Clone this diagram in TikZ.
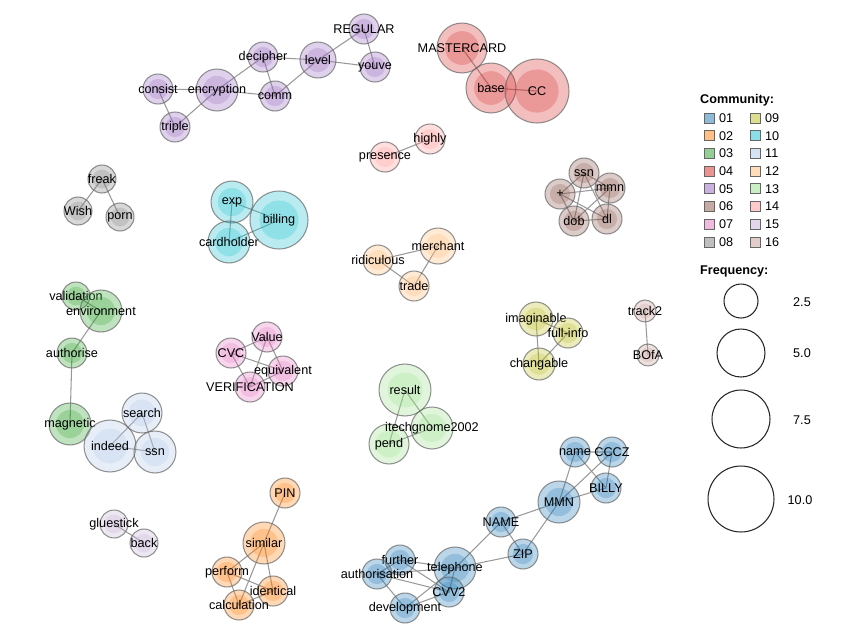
\documentclass[tikz,border=0pt]{standalone}
\usepackage{fontspec}
\setmainfont{Liberation Sans}
\usepackage{tikz}
\usetikzlibrary{positioning}
\pgfdeclarelayer{background}
\pgfsetlayers{background,main}

\definecolor{C01}{HTML}{1F77B4}
\definecolor{C02}{HTML}{FF7F0E}
\definecolor{C03}{HTML}{2CA02C}
\definecolor{C04}{HTML}{D62728}
\definecolor{C05}{HTML}{9467BD}
\definecolor{C06}{HTML}{8C564B}
\definecolor{C07}{HTML}{E377C2}
\definecolor{C08}{HTML}{7F7F7F}
\definecolor{C09}{HTML}{BCBD22}
\definecolor{C10}{HTML}{17BECF}
\definecolor{C11}{HTML}{AEC7E8}
\definecolor{C12}{HTML}{FFBB78}
\definecolor{C13}{HTML}{98DF8A}
\definecolor{C14}{HTML}{FF9896}
\definecolor{C15}{HTML}{C5B0D5}
\definecolor{C16}{HTML}{C49C94}

\begin{document}
\begin{tikzpicture}[
  x=0.02cm, y=-0.02cm,
  every node/.style={font=\fontsize{7.2}{8}\selectfont},
  every label/.style={text opacity=1, inner sep=0pt},
  term/.style 2 args={
    circle,
    inner sep=0pt,
    minimum size=#2*0.04cm,
    draw=black!60, draw opacity=0.7, line width=0.6pt,
    fill=#1, fill opacity=0.3,
    path picture={\fill[#1, fill opacity=0.25]
      (path picture bounding box.center) circle [radius=#2*0.0135cm];}
  },
  link/.style={draw=black!40, line width=0.6pt},
  swatch/.style={
    rectangle,
    inner sep=0pt,
    minimum size=0.2cm,
    fill=#1, fill opacity=0.5, text opacity=1,
    draw=black!60, line width=0.5pt
  },
  keylabel/.style={label={[xshift=2.5pt]right:#1}},
  sizekey/.style={circle, draw=black!85, line width=0.6pt, inner sep=0pt, minimum size=#1*0.04cm}
]
\useasboundingbox (0,0) rectangle (853,640);

% Communauté 05
\node[term={C05}{15}, label=center:consist]    (consist)    at (158,89)  {};
\node[term={C05}{21}, label=center:encryption] (encryption) at (217,90)  {};
\node[term={C05}{15}, label=center:triple]     (triple)     at (175,127) {};
\node[term={C05}{15}, label=center:decipher]   (decipher)   at (263,57)  {};
\node[term={C05}{15}, label=center:comm]       (comm)       at (275,96)  {};
\node[term={C05}{18}, label=center:level]      (level)      at (318,60)  {};
\node[term={C05}{15}, label=center:REGULAR]    (REGULAR)    at (364,29)  {};
\node[term={C05}{15}, label=center:youve]      (youve)      at (375,67)  {};

% Communauté 04
\node[term={C04}{25}, label=center:MASTERCARD] (MASTERCARD) at (462,48)  {};
\node[term={C04}{25}, label=center:base]       (base)       at (491,88)  {};
\node[term={C04}{32}, label=center:CC]         (CC)         at (537,91)  {};

% Communauté 14
\node[term={C14}{15}, label=center:presence]   (presence)   at (385,157) {};
\node[term={C14}{15}, label=center:highly]     (highly)     at (430,139) {};

% Communauté 06
\node[term={C06}{15}, label=center:ssn]        (ssn6)       at (584,173) {};
\node[term={C06}{15}, label=center:mmn]        (mmn)        at (610,188) {};
\node[term={C06}{15}, label=center:+]          (plus)       at (560,194) {};
\node[term={C06}{15}, label=center:dob]        (dob)        at (574,221) {};
\node[term={C06}{15}, label=center:dl]         (dl)         at (607,219) {};

% Communauté 08
\node[term={C08}{14}, label=center:freak]      (freak)      at (102,179) {};
\node[term={C08}{14}, label=center:Wish]       (Wish)       at (78,211)  {};
\node[term={C08}{14}, label=center:porn]       (porn)       at (120,217) {};

% Communauté 10
\node[term={C10}{21}, label=center:exp]        (exp)        at (232,202) {};
\node[term={C10}{21}, label=center:cardholder] (cardholder) at (229,242) {};
\node[term={C10}{29}, label=center:billing]    (billing)    at (279,220) {};

% Communauté 12
\node[term={C12}{15}, label=center:ridiculous] (ridiculous) at (378,260) {};
\node[term={C12}{18}, label=center:merchant]   (merchant)   at (438,246) {};
\node[term={C12}{15}, label=center:trade]      (trade)      at (414,286) {};

% Communauté 03
\node[term={C03}{14}, label=center:validation]  (validation)  at (76,296)  {};
\node[term={C03}{21}, label=center:environment] (environment) at (101,311) {};
\node[term={C03}{15}, label=center:authorise]   (authorise)   at (72,353)  {};
\node[term={C03}{21}, label=center:magnetic]    (magnetic)    at (70,424)  {};

% Communauté 11
\node[term={C11}{20}, label=center:search]     (search)     at (142,413) {};
\node[term={C11}{26}, label=center:indeed]     (indeed)     at (110,446) {};
\node[term={C11}{21}, label=center:ssn]        (ssn11)      at (155,452) {};

% Communauté 07
\node[term={C07}{15}, label=center:Value]        (Value)        at (267,337) {};
\node[term={C07}{15}, label=center:CVC]          (CVC)          at (231,353) {};
\node[term={C07}{15}, label=center:equivalent]   (equivalent)   at (283,371) {};
\node[term={C07}{15}, label=center:VERIFICATION] (VERIFICATION) at (250,387) {};

% Communauté 09
\node[term={C09}{17}, label=center:imaginable] (imaginable) at (536,319) {};
\node[term={C09}{15}, label=center:full-info]  (fullinfo)   at (568,333) {};
\node[term={C09}{16}, label=center:changable]  (changable)  at (539,364) {};

% Communauté 16
\node[term={C16}{11}, label=center:track2]     (track2)     at (645,311) {};
\node[term={C16}{11}, label=center:BOfA]       (BOfA)       at (648,355) {};

% Communauté 13
\node[term={C13}{26}, label=center:result]         (result)   at (405,390) {};
\node[term={C13}{20}, label=center:pend]           (pend)     at (389,444) {};
\node[term={C13}{21}, label=center:itechgnome2002] (itech)    at (432,428) {};

% Communauté 15
\node[term={C15}{14}, label=center:gluestick]  (gluestick)  at (114,524) {};
\node[term={C15}{14}, label=center:back]       (back)       at (144,543) {};

% Communauté 02
\node[term={C02}{15}, label=center:PIN]         (PIN)         at (285,493) {};
\node[term={C02}{21}, label=center:similar]     (similar)     at (264,543) {};
\node[term={C02}{15}, label=center:perform]     (perform)     at (227,572) {};
\node[term={C02}{15}, label=center:identical]   (identical)   at (273,591) {};
\node[term={C02}{15}, label=center:calculation] (calculation) at (239,605) {};

% Communauté 01
\node[term={C01}{15}, label=center:name]          (name)          at (575,452) {};
\node[term={C01}{15}, label=center:CCCZ]          (CCCZ)          at (612,452) {};
\node[term={C01}{15}, label=center:BILLY]         (BILLY)         at (606,488) {};
\node[term={C01}{21}, label=center:MMN]           (MMN)           at (559,502) {};
\node[term={C01}{15}, label=center:NAME]          (NAME)          at (501,522) {};
\node[term={C01}{15}, label=center:ZIP]           (ZIP)           at (523,554) {};
\node[term={C01}{15}, label=center:further]       (further)       at (400,560) {};
\node[term={C01}{15}, label=center:authorisation] (authorisation) at (377,574) {};
\node[term={C01}{21}, label=center:telephone]     (telephone)     at (455,568) {};
\node[term={C01}{15}, label=center:CVV2]          (CVV2)          at (449,592) {};
\node[term={C01}{15}, label=center:development]   (development)   at (405,608) {};

% Liens
\begin{pgfonlayer}{background}
\draw[link] (consist.center) -- (encryption.center) -- (triple.center) -- (consist.center);
\draw[link] (encryption.center) -- (decipher.center) -- (comm.center) -- (encryption.center);
\draw[link] (decipher.center) -- (level.center) -- (comm.center);
\draw[link] (level.center) -- (REGULAR.center) -- (youve.center) -- (level.center);
\draw[link] (MASTERCARD.center) -- (base.center) -- (CC.center);
\draw[link] (presence.center) -- (highly.center);
\draw[link] (ssn6.center) -- (mmn.center) -- (dl.center) -- (dob.center) -- (plus.center) -- (ssn6.center);
\draw[link] (ssn6.center) -- (dob.center) -- (mmn.center) -- (plus.center) -- (dl.center) -- (ssn6.center);
\draw[link] (Wish.center) -- (freak.center) -- (porn.center);
\draw[link] (exp.center) -- (cardholder.center) -- (billing.center) -- (exp.center);
\draw[link] (ridiculous.center) -- (trade.center) -- (merchant.center) -- (ridiculous.center);
\draw[link] (validation.center) -- (environment.center) -- (authorise.center) -- (magnetic.center);
\draw[link] (search.center) -- (indeed.center) -- (ssn11.center) -- (search.center);
\draw[link] (CVC.center) -- (Value.center) -- (equivalent.center) -- (VERIFICATION.center) -- (CVC.center);
\draw[link] (CVC.center) -- (equivalent.center) (Value.center) -- (VERIFICATION.center);
\draw[link] (imaginable.center) -- (changable.center) -- (fullinfo.center) -- (imaginable.center);
\draw[link] (track2.center) -- (BOfA.center);
\draw[link] (result.center) -- (pend.center) -- (itech.center) -- (result.center);
\draw[link] (gluestick.center) -- (back.center);
\draw[link] (PIN.center) -- (similar.center);
\draw[link] (similar.center) -- (perform.center) -- (calculation.center) -- (identical.center) -- (similar.center);
\draw[link] (similar.center) -- (calculation.center) (perform.center) -- (identical.center);
\draw[link] (name.center) -- (CCCZ.center) -- (BILLY.center) -- (name.center);
\draw[link] (name.center) -- (MMN.center) -- (CCCZ.center) (BILLY.center) -- (MMN.center);
\draw[link] (MMN.center) -- (NAME.center) -- (ZIP.center) -- (MMN.center);
\draw[link] (NAME.center) -- (telephone.center) -- (ZIP.center);
\draw[link] (further.center) -- (authorisation.center) -- (development.center) -- (CVV2.center) -- (further.center);
\draw[link] (further.center) -- (telephone.center) -- (authorisation.center) -- (CVV2.center) -- (telephone.center) -- (development.center);
\end{pgfonlayer}

% Légende
\node[anchor=west, font=\fontsize{7.2}{8}\selectfont\bfseries] (commtitle) at (694,100) {Community:};
\node[swatch=C01, keylabel=01] (k01) at (709,118) {};
\node[swatch=C02, keylabel=02] (k02) at (709,135.7) {};
\node[swatch=C03, keylabel=03] (k03) at (709,153.4) {};
\node[swatch=C04, keylabel=04] (k04) at (709,171.1) {};
\node[swatch=C05, keylabel=05] (k05) at (709,188.8) {};
\node[swatch=C06, keylabel=06] (k06) at (709,206.5) {};
\node[swatch=C07, keylabel=07] (k07) at (709,224.2) {};
\node[swatch=C08, keylabel=08] (k08) at (709,242) {};
\node[swatch=C09, keylabel=09] (k09) at (755,118) {};
\node[swatch=C10, keylabel=10] (k10) at (755,135.7) {};
\node[swatch=C11, keylabel=11] (k11) at (755,153.4) {};
\node[swatch=C12, keylabel=12] (k12) at (755,171.1) {};
\node[swatch=C13, keylabel=13] (k13) at (755,188.8) {};
\node[swatch=C14, keylabel=14] (k14) at (755,206.5) {};
\node[swatch=C15, keylabel=15] (k15) at (755,224.2) {};
\node[swatch=C16, keylabel=16] (k16) at (755,242) {};

\node[anchor=west, font=\fontsize{7.2}{8}\selectfont\bfseries] (freqtitle) at (694,271) {Frequency:};
\node[sizekey=17] (f1) at (741,301) {};
\node[sizekey=24] (f2) at (741,353) {};
\node[sizekey=29] (f3) at (741,419) {};
\node[sizekey=33] (f4) at (741,499) {};
\node (v1) at (802,302) {2.5};
\node (v2) at (802,353) {5.0};
\node (v3) at (802,420) {7.5};
\node (v4) at (800,500) {10.0};
\end{tikzpicture}
\end{document}
